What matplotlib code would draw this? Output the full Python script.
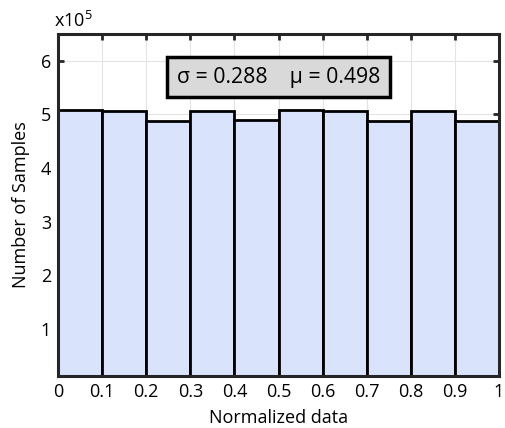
import numpy as np
import matplotlib.pyplot as plt
from matplotlib.ticker import FuncFormatter

plt.rcParams['font.family'] = ['Open Sans', 'DejaVu Sans']

edges = np.round(np.arange(0, 1.01, 0.1), 1)
counts = [5.08e5, 5.07e5, 4.88e5, 5.07e5, 4.89e5, 5.08e5, 5.07e5, 4.88e5, 5.07e5, 4.88e5]
sigma = 0.288
mu = 0.498

fig = plt.figure(figsize=(5.05, 4.28), dpi=100)
ax = fig.add_axes([0.115, 0.1215, 0.873, 0.799])

ax.bar(edges[:-1], counts, width=0.1, align='edge', color='#d9e4fc',
       edgecolor='black', linewidth=2, zorder=2)

ax.set_xlim(0, 1)
ax.set_ylim(0.12e5, 6.5e5)
ax.set_xticks(edges)
ax.set_xticklabels(['0' if x == 0 else ('1' if x == 1 else f'{x:.1f}') for x in edges])
ax.set_yticks(np.arange(1, 7) * 1e5)
ax.yaxis.set_major_formatter(FuncFormatter(lambda v, p: f'{v/1e5:.0f}'))
ax.tick_params(direction='in', length=4, width=2, labelsize=13, top=True, right=True,
               color='#262626', pad=5)
ax.grid(True, color='#e3e3e3', linewidth=0.8, zorder=0)
ax.set_axisbelow(True)
for s in ax.spines.values():
    s.set_linewidth(2.2)
    s.set_color('#262626')
    s.set_zorder(5)

ax.set_xlabel('Normalized data', fontsize=13, labelpad=6)
ax.set_ylabel('Number of Samples', fontsize=13, labelpad=8)
ax.text(-0.01, 1.01, r'x10$^{\mathregular{5}}$', transform=ax.transAxes, fontsize=13,
        ha='left', va='bottom')

ax.text(0.5, 0.874, f'σ = {sigma:.3f}    μ = {mu:.3f}', transform=ax.transAxes,
        ha='center', va='center', fontsize=15.3, zorder=6,
        bbox=dict(boxstyle='square,pad=0.45', fc='#d9d9d9', ec='black', lw=2.5))

fig.savefig('out.png', dpi=100)
